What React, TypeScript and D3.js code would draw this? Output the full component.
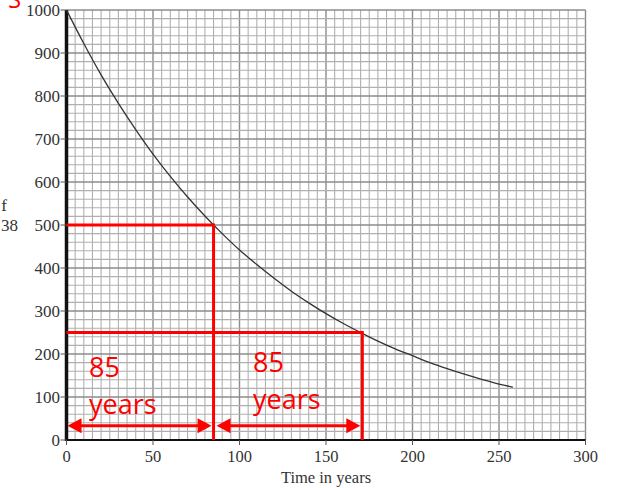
import { scaleLinear, line, curveMonotoneX, range } from "d3";

const years = [0, 10, 20, 30, 40, 50, 60, 70, 80, 90, 100, 110, 120, 130, 140, 150, 160, 170, 180, 190, 200, 210, 220, 230, 240, 250, 258];
const amount = [1000, 922, 849, 783, 722, 665, 613, 565, 521, 480, 442, 408, 376, 346, 319, 294, 271, 250, 230, 212, 196, 180, 166, 153, 141, 130, 123];
const xTicks = [0, 50, 100, 150, 200, 250, 300];
const yTicks = [0, 100, 200, 300, 400, 500, 600, 700, 800, 900, 1000];
const halfLevels = [500, 250];
const halfTimes = [85, 171];
const arrowLevel = 33;
const spanLabels = ["85", "85"];

const serif = "'Liberation Serif', 'Times New Roman', Times, serif";
const sans = "'Open Sans', 'Liberation Sans', sans-serif";

export default function App() {
  const width = 618;
  const height = 488;
  const x = scaleLinear().domain([0, 300]).range([66.5, 585.5]);
  const y = scaleLinear().domain([0, 1000]).range([440, 10]);
  const path = line<number>()
    .x((_, i) => x(years[i]))
    .y((d) => y(d))
    .curve(curveMonotoneX)(amount);

  const red = "#ff0000";
  const ay = y(arrowLevel);
  const arrow = (x0: number, x1: number, key: string) => (
    <g key={key}>
      <line x1={x0 + 10} x2={x1 - 10} y1={ay} y2={ay} stroke={red} strokeWidth="3" />
      <path d={`M${x0} ${ay} l14 -7.5 v15 z`} fill={red} />
      <path d={`M${x1} ${ay} l-14 -7.5 v15 z`} fill={red} />
    </g>
  );

  return (
    <svg width={width} height={height} style={{ position: "absolute", left: 0, top: 0, background: "#fff" }}>
      {range(0, 301, 5).map((t) => (
        <line key={"vx" + t} x1={x(t)} x2={x(t)} y1={y(0)} y2={y(1000)}
          stroke={t % 50 === 0 ? "#8c8c8c" : "#b0b0b0"} strokeWidth={t % 50 === 0 ? 1.4 : 1.1} />
      ))}
      {range(0, 1001, 20).map((v) => (
        <line key={"hy" + v} x1={x(0)} x2={x(300)} y1={y(v)} y2={y(v)}
          stroke={v % 100 === 0 ? "#8c8c8c" : "#b0b0b0"} strokeWidth={v % 100 === 0 ? 1.4 : 1.1} />
      ))}
      <line x1={x(0)} x2={x(300)} y1={y(0)} y2={y(0)} stroke="#111" strokeWidth="2" />
      <line x1={x(0)} x2={x(0)} y1={y(0) + 1} y2={y(1000)} stroke="#111" strokeWidth="3.5" />

      {yTicks.map((v) => (
        <g key={"yt" + v}>
          <line x1={x(0) - 6} x2={x(0)} y1={y(v)} y2={y(v)} stroke="#555" strokeWidth="1" />
          <text x={60} y={y(v) + 5.5} textAnchor="end" fontFamily={serif} fontSize="17" fill="#333">
            {v}
          </text>
        </g>
      ))}
      {xTicks.map((t) => (
        <g key={"xt" + t}>
          <line x1={x(t)} x2={x(t)} y1={y(0)} y2={y(0) + 5} stroke="#555" strokeWidth="1" />
          <text x={x(t)} y={462} textAnchor="middle" fontFamily={serif} fontSize="16.5" fill="#333">
            {t}
          </text>
        </g>
      ))}
      <text x={326} y={483} textAnchor="middle" fontFamily={serif} fontSize="16.5" fill="#333">
        Time in years
      </text>
      <text x={7} y={211} textAnchor="end" fontFamily={serif} fontSize="17" fill="#333">f</text>
      <text x={18} y={231} textAnchor="end" fontFamily={serif} fontSize="17" fill="#333">38</text>
      <text x={8} y={8} fontFamily={sans} fontSize="24" fill={red}>S</text>

      <path d={path ?? ""} fill="none" stroke="#333" strokeWidth="1.3" />

      {halfLevels.map((v, i) => (
        <g key={"hl" + v}>
          <line x1={x(0)} x2={x(halfTimes[i])} y1={y(v)} y2={y(v)} stroke={red} strokeWidth="3" />
          <line x1={x(halfTimes[i])} x2={x(halfTimes[i])} y1={y(v) - 1.5} y2={y(0)} stroke={red} strokeWidth="3" />
        </g>
      ))}
      {arrow(x(0) + 1, x(halfTimes[0]) - 2, "a1")}
      {arrow(x(halfTimes[0]) + 3, x(halfTimes[1]) - 2, "a2")}

      <text x={89} y={377} fontFamily={sans} fontSize="27" fill={red}>{spanLabels[0]}</text>
      <text x={89} y={414} fontFamily={sans} fontSize="27" fill={red}>years</text>
      <text x={253} y={372} fontFamily={sans} fontSize="27" fill={red}>{spanLabels[1]}</text>
      <text x={253} y={409} fontFamily={sans} fontSize="27" fill={red}>years</text>
    </svg>
  );
}
